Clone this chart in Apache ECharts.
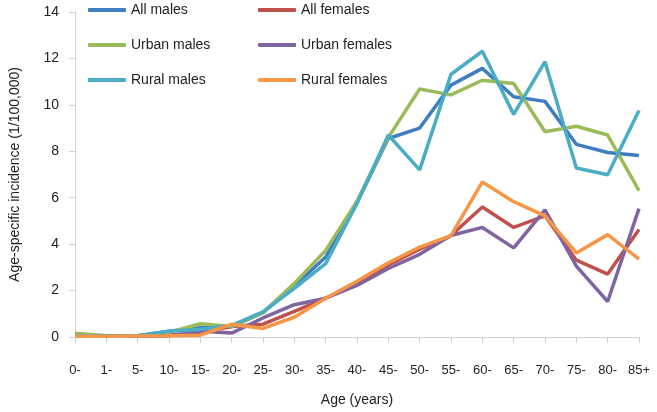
<!DOCTYPE html>
<html><head><meta charset="utf-8">
<script src="https://cdn.jsdelivr.net/npm/echarts@6/dist/echarts.min.js"></script>
<style>html,body{margin:0;padding:0;background:#fff}#c{width:657px;height:412px}</style>
</head><body><div id="c"></div>
<script>
var categories = ['0-','1-','5-','10-','15-','20-','25-','30-','35-','40-','45-','50-','55-','60-','65-','70-','75-','80-','85+'];
var allMales     = [0.08,0.05,0.05,0.25,0.40,0.45,1.05,2.20,3.45,5.80,8.55,9.00,10.85,11.57,10.35,10.15,8.30,7.95,7.82];
var allFemales   = [0.05,0.03,0.04,0.08,0.18,0.45,0.55,1.10,1.67,2.30,3.10,3.78,4.37,5.60,4.72,5.22,3.31,2.71,4.63];
var urbanMales   = [0.16,0.05,0.05,0.20,0.57,0.45,1.05,2.31,3.73,5.85,8.60,10.68,10.43,11.06,10.92,8.84,9.08,8.70,6.31];
var urbanFemales = [0.05,0.03,0.04,0.05,0.25,0.17,0.82,1.39,1.67,2.22,2.95,3.56,4.37,4.72,3.84,5.48,3.05,1.53,5.53];
var ruralMales   = [0.05,0.05,0.05,0.25,0.33,0.50,1.08,2.10,3.16,5.75,8.70,7.20,11.32,12.31,9.59,11.86,7.28,6.99,9.76];
var ruralFemales = [0.03,0.03,0.04,0.05,0.08,0.55,0.37,0.85,1.67,2.40,3.20,3.87,4.37,6.68,5.83,5.22,3.62,4.41,3.35];
var yTicks = {min:0, max:14, interval:2};

var names = ['All males','All females','Urban males','Urban females','Rural males','Rural females'];
var colors = ['#3F7EC0','#C0504D','#9BBB59','#8064A2','#4BACC6','#F79646'];
var datas = [allMales, allFemales, urbanMales, urbanFemales, ruralMales, ruralFemales];
var series = names.map(function(n,i){
  return {name:n, type:'line', data:datas[i], symbol:'none', smooth:false,
    lineStyle:{width:3.5, color:colors[i]}, itemStyle:{color:colors[i]}, z: 2+i};
});
var legendCommon = {orient:'vertical', icon:'roundRect', itemWidth:38, itemHeight:4, itemGap:21,
  textStyle:{fontFamily:'Liberation Sans, Arial, sans-serif', fontSize:14, color:'#222', padding:[0,0,0,0]}, padding:0};
var chart = echarts.init(document.getElementById('c'), null, {renderer:'canvas'});
chart.setOption({
  animation:false,
  backgroundColor:'#fff',
  legend:[
    Object.assign({}, legendCommon, {left:88, top:3, data:['All males','Urban males','Rural males']}),
    Object.assign({}, legendCommon, {left:258, top:3, data:['All females','Urban females','Rural females']})
  ],
  grid:{left:70, right:18, top:12, bottom:71, containLabel:false},
  xAxis:{type:'category', data:categories, boundaryGap:false,
    name:'Age (years)', nameLocation:'middle', nameGap:56,
    nameTextStyle:{fontFamily:'Liberation Sans, Arial, sans-serif', fontSize:14, color:'#222'},
    axisLine:{lineStyle:{color:'#d0d0d0', width:1}},
    axisTick:{alignWithLabel:true, length:6, lineStyle:{color:'#d0d0d0'}},
    axisLabel:{margin:27, interval:0, fontFamily:'Liberation Sans, Arial, sans-serif', fontSize:13, color:'#222'},
    splitLine:{show:false}},
  yAxis:{type:'value', min:yTicks.min, max:yTicks.max, interval:yTicks.interval,
    name:'Age-specific incidence (1/100,000)', nameLocation:'middle', nameGap:53,
    nameTextStyle:{fontFamily:'Liberation Sans, Arial, sans-serif', fontSize:14, color:'#222'},
    axisLine:{show:true, lineStyle:{color:'#d0d0d0', width:1}},
    axisTick:{show:true, length:6, lineStyle:{color:'#d0d0d0'}},
    axisLabel:{margin:16, fontFamily:'Liberation Sans, Arial, sans-serif', fontSize:14, color:'#222'},
    splitLine:{show:false}},
  series:series
});
</script></body></html>
